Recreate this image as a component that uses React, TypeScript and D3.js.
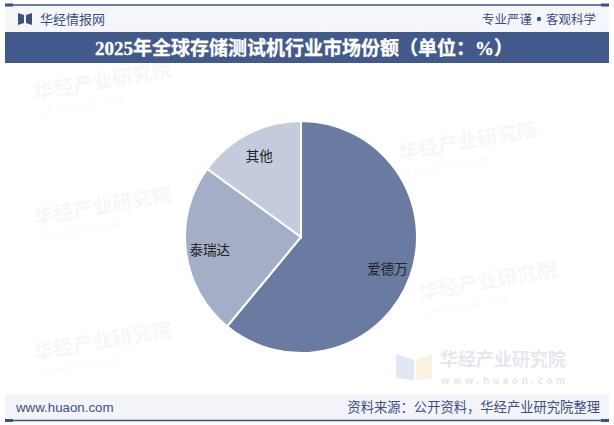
import React from "react";
import * as d3 from "d3";

const categories = ["爱德万", "泰瑞达", "其他"];
const shares = [61, 24, 15];
const colors = ["#6a7ba2", "#a4afc7", "#c4cbdc"];

const W = 614;
const H = 425;
const cx = 301;
const cy = 237;
const R = 116;

const CJK = "'Noto Sans CJK SC', 'Noto Sans', sans-serif";

function Watermark({ x, y, rot = -8, size = 20, op = 0.045 }: { x: number; y: number; rot?: number; size?: number; op?: number }) {
  return (
    <g transform={`translate(${x},${y}) rotate(${rot})`} opacity={op}>
      <text x={0} y={0} fontFamily={CJK} fontWeight={700} fontSize={size} fill="#3d5080">华经产业研究院</text>
      <text x={2} y={size * 0.8} fontFamily="'Liberation Serif', serif" fontSize={size * 0.45} fill="#3d5080" letterSpacing={2}>www.huaon.com</text>
    </g>
  );
}

export default function App() {
  const pie = d3.pie<number>().value((d) => d).sort(null).startAngle(0).endAngle(2 * Math.PI);
  const arcs = pie(shares);
  const arc = d3.arc<d3.PieArcDatum<number>>().innerRadius(0).outerRadius(R);
  const labelArc = d3.arc<d3.PieArcDatum<number>>().innerRadius(92).outerRadius(92);

  return (
    <svg width={W} height={H} style={{ position: "absolute", left: 0, top: 0 }}>
      <rect x={0} y={0} width={W} height={H} fill="#ffffff" />
      {/* header */}
      <rect x={5} y={6} width={604} height={26} fill="#f5f6fa" />
      <line x1={5} x2={609} y1={5} y2={5} stroke="#3d5080" strokeWidth={1.5} />
      <rect x={5} y={3.5} width={8} height={3} fill="#3d5080" />
      <rect x={601} y={3.5} width={8} height={3} fill="#3d5080" />
      <path d="M18,13 L24,15 L24,23 L18,25 Z M32,13 L26,15 L26,23 L32,25 Z" fill="#3d5080" />
      <text x={40} y={23.5} fontFamily={CJK} fontSize={13} fill="#3d5080">华经情报网</text>
      <text x={596} y={23.5} textAnchor="end" fontFamily={CJK} fontSize={12.5} fill="#3d5080">客观科学</text>
      <circle cx={539} cy={19} r={2.2} fill="#3d5080" />
      <text x={532} y={23.5} textAnchor="end" fontFamily={CJK} fontSize={12.5} fill="#3d5080">专业严谨</text>
      {/* title bar */}
      <rect x={5} y={32} width={604} height={31} fill="#41598b" />
      <text x={304} y={54.5} textAnchor="middle" fontFamily={`'Liberation Serif', ${CJK}`} fontWeight={700} fontSize={19} fill="#ffffff" stroke="#ffffff" strokeWidth={0.3}>2025年全球存储测试机行业市场份额（单位：%）</text>

      {/* watermarks */}
      <Watermark x={35} y={100} rot={-10} />
      <Watermark x={35} y={225} rot={-10} />
      <Watermark x={35} y={360} rot={-10} />
      <Watermark x={400} y={160} rot={-10} />
      <Watermark x={420} y={300} rot={-10} />
      <g opacity={0.55}>
        <path d="M396,354 L414,360 L414,380 L396,378 Z" fill="#c9d6ee" />
        <path d="M432,354 L416,360 L416,380 L432,378 Z" fill="#f5ecc8" />
        <text x={440} y={366} fontFamily={CJK} fontWeight={700} fontSize={18} fill="#cfd4de">华经产业研究院</text>
        <text x={441} y={384} fontFamily={CJK} fontWeight={700} fontSize={10} fill="#cfd4de" letterSpacing={3.4}>www.huaon.com</text>
      </g>

      {/* pie */}
      <g transform={`translate(${cx},${cy})`}>
        {arcs.map((a, i) => (
          <path key={categories[i]} d={arc(a) || ""} fill={colors[i]} stroke="#ffffff" strokeWidth={2} />
        ))}
        {arcs.map((a, i) => {
          const [lx, ly] = labelArc.centroid(a);
          return (
            <text key={"l" + categories[i]} x={lx} y={ly} textAnchor="middle" dominantBaseline="central" fontFamily={CJK} fontSize={13.5} fill="#222">
              {categories[i]}
            </text>
          );
        })}
      </g>

      {/* footer */}
      <rect x={5} y={394} width={604} height={26} fill="#f2f4f9" />
      <line x1={5} x2={609} y1={420.5} y2={420.5} stroke="#3d5080" strokeWidth={1.5} />
      <rect x={5} y={419} width={8} height={3} fill="#3d5080" />
      <rect x={601} y={419} width={8} height={3} fill="#3d5080" />
      <text x={16} y={412} fontFamily="'Liberation Sans', Arial, sans-serif" fontSize={13.3} fill="#3d5080">www.huaon.com</text>
      <text x={600} y={412} textAnchor="end" fontFamily={CJK} fontSize={13.3} fill="#3d5080">资料来源：公开资料，华经产业研究院整理</text>
    </svg>
  );
}
